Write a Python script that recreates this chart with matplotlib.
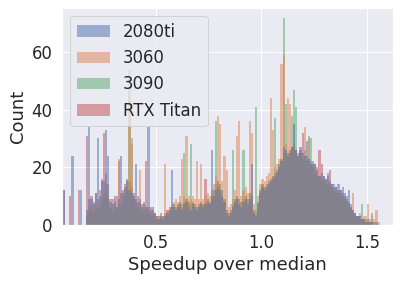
import numpy as np
import pandas as pd
import matplotlib
matplotlib.use("Agg")
import matplotlib.pyplot as plt
import seaborn as sns

# Histogram bins: width 0.01 from 0.05 to 1.60
bin_start = 0.05
bin_end = 1.60
n_bins = 155

series_names = ["2080ti", "3060", "3090", "RTX Titan"]

counts_2080ti = [
    0, 12, 0, 0, 0, 24, 0, 0, 0, 12,
    0, 0, 5, 34, 9, 7, 11, 30, 10, 15,
    15, 33, 24, 8, 7, 10, 6, 9, 24, 11,
    13, 16, 12, 11, 10, 21, 8, 9, 6, 7,
    6, 34, 5, 6, 4, 3, 2, 3, 2, 3,
    4, 5, 19, 6, 5, 6, 7, 5, 7, 8,
    6, 5, 7, 6, 5, 6, 7, 6, 7, 8,
    7, 26, 10, 12, 13, 12, 10, 8, 4, 3,
    4, 6, 8, 9, 7, 6, 8, 9, 7, 9,
    21, 4, 3, 7, 11, 13, 12, 13, 14, 15,
    16, 17, 18, 20, 22, 27, 26, 24, 25, 27,
    35, 26, 24, 27, 25, 24, 29, 23, 21, 22,
    21, 19, 17, 18, 17, 16, 18, 15, 14, 14,
    13, 14, 12, 13, 11, 10, 12, 7, 5, 4,
    3, 3, 2, 2, 1, 2, 1, 1, 0, 1,
    0, 0, 0, 0, 0,
]

counts_3060 = [
    0, 0, 0, 0, 0, 0, 0, 0, 0, 0,
    0, 0, 3, 5, 6, 5, 7, 6, 8, 10,
    12, 14, 10, 6, 5, 7, 6, 23, 8, 10,
    12, 13, 45, 28, 10, 8, 7, 19, 6, 5,
    6, 5, 4, 4, 3, 2, 3, 3, 2, 21,
    5, 6, 7, 8, 9, 8, 10, 23, 10, 31,
    10, 9, 10, 9, 22, 9, 21, 9, 10, 11,
    10, 12, 14, 17, 38, 35, 15, 24, 19, 6,
    7, 9, 12, 31, 36, 10, 12, 13, 11, 36,
    32, 7, 5, 10, 14, 16, 15, 17, 18, 44,
    33, 20, 21, 23, 56, 59, 28, 44, 42, 27,
    28, 26, 24, 25, 23, 34, 22, 30, 21, 20,
    19, 18, 17, 16, 15, 15, 14, 14, 13, 12,
    12, 11, 11, 10, 9, 8, 7, 6, 11, 4,
    3, 4, 2, 3, 3, 7, 2, 3, 2, 5,
    1, 0, 0, 0, 0,
]

counts_3090 = [
    0, 0, 0, 0, 0, 0, 0, 0, 0, 0,
    0, 0, 2, 4, 5, 4, 6, 5, 6, 8,
    10, 12, 9, 5, 4, 6, 5, 7, 6, 8,
    10, 12, 54, 30, 9, 7, 6, 5, 4, 4,
    5, 4, 3, 3, 2, 2, 2, 2, 3, 3,
    4, 5, 6, 7, 6, 7, 8, 7, 25, 9,
    8, 28, 8, 7, 6, 7, 8, 7, 8, 9,
    8, 10, 12, 36, 15, 14, 12, 9, 5, 4,
    5, 26, 9, 10, 9, 8, 26, 10, 9, 11,
    10, 5, 41, 8, 12, 14, 13, 14, 15, 16,
    17, 37, 19, 21, 23, 72, 42, 25, 26, 38,
    47, 41, 24, 25, 23, 24, 22, 31, 30, 20,
    18, 17, 16, 15, 15, 14, 14, 13, 13, 12,
    11, 11, 10, 10, 9, 8, 7, 5, 4, 3,
    3, 2, 7, 2, 1, 1, 1, 4, 1, 0,
    0, 0, 0, 0, 0,
]

counts_rtx_titan = [
    0, 12, 0, 0, 10, 0, 0, 0, 12, 0,
    0, 0, 31, 9, 10, 8, 11, 9, 12, 16,
    32, 18, 14, 9, 9, 8, 10, 22, 11, 12,
    14, 15, 15, 13, 11, 9, 10, 8, 7, 8,
    22, 6, 6, 5, 4, 3, 3, 4, 3, 4,
    5, 6, 6, 7, 6, 7, 8, 6, 8, 9,
    8, 7, 8, 7, 6, 7, 8, 7, 16, 9,
    8, 10, 12, 14, 15, 14, 12, 9, 5, 4,
    5, 7, 9, 10, 9, 8, 9, 10, 9, 11,
    10, 5, 4, 8, 12, 14, 13, 14, 15, 16,
    17, 18, 19, 21, 23, 25, 26, 25, 26, 27,
    27, 26, 25, 26, 32, 26, 24, 23, 22, 21,
    21, 20, 26, 21, 17, 16, 17, 19, 14, 13,
    13, 12, 12, 11, 10, 9, 8, 6, 5, 4,
    3, 3, 2, 2, 2, 1, 1, 1, 1, 0,
    0, 0, 0, 0, 0,
]

x_ticks = [0.5, 1.0, 1.5]
y_ticks = [0, 20, 40, 60]

sns.set_theme(font_scale=1.5)
plt.rcParams["font.family"] = ["DejaVu Sans"]

edges = np.linspace(bin_start, bin_end, n_bins + 1)
centers = (edges[:-1] + edges[1:]) / 2

frames = []
for name, cnt in zip(series_names,
                     [counts_2080ti, counts_3060, counts_3090, counts_rtx_titan]):
    frames.append(pd.DataFrame({"x": centers, "w": np.asarray(cnt, dtype=float),
                                "gpu": name}))
df = pd.concat(frames, ignore_index=True)

fig = plt.figure(figsize=(401 / 72, 281 / 72), dpi=72)
ax = fig.add_axes([62 / 401, 1 - 224.5 / 281, (393 - 62) / 401, (224.5 - 8) / 281])
sns.histplot(data=df, x="x", weights="w", hue="gpu",
             hue_order=series_names, bins=n_bins, binrange=(bin_start, bin_end),
             ax=ax, linewidth=0)

ax.set_xlim(0.055, 1.623)
ax.set_ylim(0, 75.5)
ax.set_xticks(x_ticks)
ax.set_yticks(y_ticks)
ax.set_xlabel("Speedup over median")
ax.set_ylabel("Count")

sns.move_legend(ax, "upper left", title=None, frameon=True)

fig.savefig("out.png", dpi=72)
